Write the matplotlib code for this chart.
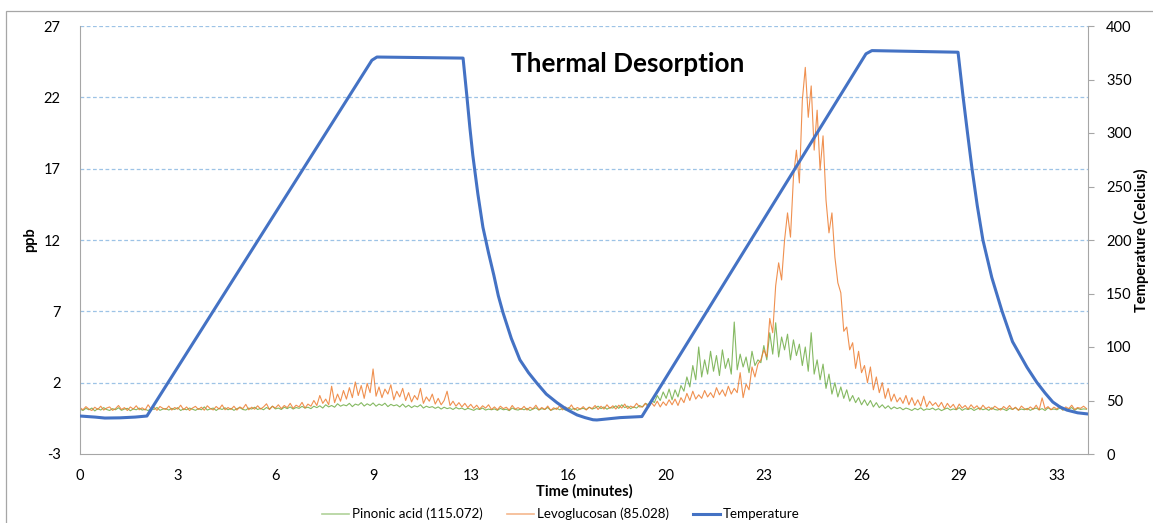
import numpy as np
import matplotlib
matplotlib.use("Agg")
import matplotlib.pyplot as plt
from matplotlib.lines import Line2D
from matplotlib.patches import Rectangle

plt.rcParams['font.family'] = ['Lato', 'DejaVu Sans']
plt.rcParams['axes.unicode_minus'] = False

# sampling grid of the two mass traces (minutes, 0.1 min step)
T_STEP = 0.1

LEVO = [
    0.25, 0.10, 0.32, 0.15, 0.05, 0.28, 0.12, 0.35, 0.08, 0.22,
    0.30, 0.06, 0.18, 0.40, 0.12, 0.25, 0.05, 0.30, 0.15, 0.38,
    0.10, 0.24, 0.08, 0.45, 0.15, 0.28, 0.06, 0.33, 0.20, 0.12,
    0.36, 0.08, 0.26, 0.14, 0.42, 0.10, 0.30, 0.05, 0.22, 0.34,
    0.12, 0.28, 0.07, 0.38, 0.18, 0.09, 0.33, 0.15, 0.44, 0.10,
    0.26, 0.12, 0.35, 0.08, 0.30, 0.18, 0.48, 0.10, 0.28, 0.14,
    0.38, 0.15, 0.30, 0.52, 0.12, 0.35, 0.22, 0.45, 0.18, 0.40,
    0.25, 0.55, 0.20, 0.42, 0.30, 0.62, 0.22, 0.50, 0.35, 0.75,
    0.40, 1.10, 0.55, 0.85, 0.45, 1.75, 0.60, 1.20, 0.70, 1.45,
    0.85, 1.65, 0.95, 2.05, 1.10, 1.80, 0.90, 1.95, 1.30, 2.96,
    1.05, 1.70, 0.95, 1.55, 1.20, 1.85, 0.80, 1.40, 1.00, 1.60,
    0.75, 1.30, 0.65, 1.10, 0.80, 1.60, 0.55, 1.00, 0.70, 1.20,
    0.50, 0.90, 0.45, 0.75, 1.40, 0.40, 0.70, 0.35, 0.60, 0.30,
    0.55, 0.25, 0.48, 0.20, 0.42, 0.15, 0.38, 0.22, 0.45, 0.12,
    0.30, 0.10, 0.35, 0.18, 0.28, 0.08, 0.40, 0.15, 0.25, 0.12,
    0.34, 0.08, 0.28, 0.16, 0.42, 0.10, 0.26, 0.12, 0.36, 0.06,
    0.24, 0.12, 0.38, 0.09, 0.30, 0.15, 0.44, 0.10, 0.26, 0.14,
    0.32, 0.08, 0.28, 0.18, 0.40, 0.12, 0.35, 0.15, 0.45, 0.20,
    0.38, 0.15, 0.42, 0.22, 0.50, 0.18, 0.36, 0.25, 0.55, 0.30,
    0.30, 0.55, 0.25, 0.60, 0.35, 0.70, 0.30, 0.65, 0.40, 0.80,
    0.45, 0.85, 0.40, 0.95, 0.60, 1.25, 0.75, 1.40, 0.85, 1.15,
    0.90, 1.45, 1.00, 1.30, 0.95, 1.65, 1.15, 1.50, 1.05, 1.75,
    1.20, 1.60, 1.30, 2.70, 0.95, 1.90, 1.50, 3.10, 2.40, 3.30,
    3.60, 4.30, 3.80, 6.50, 5.50, 8.80, 10.40, 9.20, 12.00, 13.90,
    12.20, 16.40, 18.30, 16.00, 21.80, 24.10, 20.60, 22.80, 18.30, 21.10,
    16.90, 19.30, 14.80, 12.50, 13.90, 10.80, 9.00, 8.30, 5.60, 5.90,
    4.30, 4.80, 3.00, 4.20, 2.70, 3.20, 2.00, 3.10, 1.50, 2.40,
    1.30, 2.00, 0.90, 1.60, 0.70, 1.20, 0.65, 0.95, 0.55, 1.10,
    0.45, 0.95, 0.40, 0.80, 0.35, 1.05, 0.30, 0.70, 0.40, 0.60,
    0.30, 0.62, 0.18, 0.55, 0.25, 0.48, 0.12, 0.50, 0.22, 0.40,
    0.15, 0.45, 0.20, 0.38, 0.10, 0.42, 0.18, 0.30, 0.12, 0.35,
    0.20, 0.08, 0.33, 0.15, 0.40, 0.12, 0.28, 0.06, 0.36, 0.18,
    0.10, 0.30, 0.14, 0.42, 0.08, 0.93, 0.16, 0.32, 0.10, 0.28,
    0.15, 0.38, 0.08, 0.30, 0.18, 0.42, 0.12, 0.26, 0.20, 0.35,
    0.18,
]

PINO = [
    0.15, 0.05, 0.20, 0.10, 0.22, 0.02, 0.18, 0.08, 0.25, 0.12,
    0.05, 0.18, 0.10, 0.24, 0.06, 0.15, 0.20, 0.03, 0.16, 0.10,
    0.22, 0.08, 0.14, 0.04, 0.20, 0.12, 0.26, 0.06, 0.15, 0.18,
    0.08, 0.20, 0.12, 0.25, 0.05, 0.16, 0.10, 0.22, 0.14, 0.06,
    0.18, 0.10, 0.30, 0.08, 0.16, 0.22, 0.05, 0.20, 0.12, 0.24,
    0.10, 0.20, 0.06, 0.18, 0.25, 0.12, 0.08, 0.22, 0.15, 0.28,
    0.12, 0.20, 0.10, 0.26, 0.14, 0.35, 0.16, 0.22, 0.12, 0.28,
    0.18, 0.30, 0.15, 0.26, 0.20, 0.34, 0.22, 0.28, 0.18, 0.35,
    0.25, 0.38, 0.22, 0.45, 0.30, 0.40, 0.28, 0.52, 0.35, 0.45,
    0.38, 0.55, 0.32, 0.50, 0.42, 0.60, 0.36, 0.52, 0.40, 0.58,
    0.35, 0.50, 0.40, 0.56, 0.32, 0.48, 0.38, 0.45, 0.30, 0.50,
    0.28, 0.42, 0.25, 0.38, 0.30, 0.45, 0.22, 0.35, 0.26, 0.32,
    0.20, 0.30, 0.15, 0.28, 0.18, 0.24, 0.12, 0.26, 0.16, 0.22,
    0.10, 0.20, 0.14, 0.06, 0.18, 0.12, 0.22, 0.08, 0.15, 0.10,
    0.16, 0.06, 0.20, 0.10, 0.14, 0.04, 0.22, 0.12, 0.08, 0.18,
    0.10, 0.20, 0.05, 0.15, 0.24, 0.08, 0.18, 0.12, 0.26, 0.06,
    0.14, 0.22, 0.10, 0.18, 0.08, 0.25, 0.12, 0.20, 0.06, 0.16,
    0.20, 0.12, 0.28, 0.15, 0.22, 0.35, 0.18, 0.30, 0.14, 0.26,
    0.22, 0.38, 0.20, 0.45, 0.25, 0.36, 0.18, 0.30, 0.22, 0.40,
    0.30, 0.55, 0.45, 0.80, 0.60, 1.10, 0.75, 1.35, 0.90, 1.55,
    0.80, 1.50, 1.00, 1.80, 1.40, 2.40, 1.70, 3.20, 2.20, 4.50,
    2.40, 3.60, 2.60, 4.20, 2.80, 3.90, 2.50, 4.30, 3.00, 3.70,
    2.60, 6.25, 2.90, 4.00, 3.10, 3.80, 2.70, 4.20, 3.20, 3.60,
    3.40, 4.60, 3.60, 5.50, 4.00, 6.20, 3.80, 5.20, 4.30, 5.40,
    3.60, 5.00, 3.90, 4.70, 3.20, 4.50, 2.80, 5.50, 2.60, 3.60,
    2.20, 3.30, 1.60, 2.60, 1.20, 2.00, 1.00, 1.70, 0.90, 1.50,
    0.70, 1.10, 0.60, 0.95, 0.45, 0.80, 0.40, 0.75, 0.30, 0.60,
    0.25, 0.45, 0.20, 0.38, 0.15, 0.30, 0.18, 0.26, 0.10, 0.22,
    0.15, 0.05, 0.20, 0.10, 0.24, 0.06, 0.16, 0.12, 0.22, 0.08,
    0.18, 0.04, 0.14, 0.22, 0.08, 0.16, 0.10, 0.25, 0.06, 0.18,
    0.12, 0.20, 0.05, 0.16, 0.22, 0.10, 0.18, 0.06, 0.24, 0.12,
    0.08, 0.18, 0.14, 0.04, 0.20, 0.12, 0.25, 0.08, 0.15, 0.10,
    0.20, 0.06, 0.16, 0.22, 0.10, 0.18, 0.05, 0.24, 0.12, 0.15,
    0.10, 0.22, 0.08, 0.18, 0.14, 0.26, 0.06, 0.20, 0.12, 0.16,
    0.14,
]

TEMP_T = [0, 0.51, 0.84, 1.35, 1.86, 2.26, 9.86, 10.03, 12.94, 13.07,
          13.17, 13.27, 13.44, 13.61, 13.80, 13.98, 14.13, 14.29, 14.57,
          14.86, 15.15, 15.44, 15.75, 16.11, 16.45, 16.79, 17.06, 17.33,
          17.46, 18.24, 18.98, 26.55, 26.75, 29.66, 29.83, 29.98, 30.13,
          30.31, 30.50, 30.80, 31.14, 31.50, 31.99, 32.32, 32.60, 32.86,
          33.10, 33.34, 33.70, 34.05]
TEMP_C = [35.5, 34.5, 33.6, 33.8, 34.5, 35.5, 368, 371, 370, 334,
          305, 279, 243, 212, 188, 167, 148, 132, 108,
          88, 76, 66, 56, 48, 41.5, 36.5, 34, 32,
          31.8, 34, 35, 374, 377, 375.5, 334, 300, 267,
          232, 200, 165, 134, 105, 81, 67, 57, 48.6,
          44, 41, 38.5, 37.4]

XTICK_LABELS = ['0', '3', '6', '9', '13', '16', '20', '23', '26', '29', '33']
PPB_TICKS = [-3, 2, 7, 12, 17, 22, 27]
TEMP_TICKS = [0, 50, 100, 150, 200, 250, 300, 350, 400]

t = np.arange(len(LEVO)) * T_STEP

W, H = 1153, 523
fig = plt.figure(figsize=(W / 100, H / 100), dpi=100)
fig.patches.append(Rectangle((6 / W, -0.1), 1.2, 1 - 11 / H + 0.1, transform=fig.transFigure,
                             fill=False, edgecolor='#a6a6a6', linewidth=0.9))

ax = fig.add_axes([80 / W, 1 - 454 / H, 1008 / W, 428 / H])
ax.set_facecolor('none')
ax.plot(t, PINO, color='#70ad47', lw=0.8, alpha=0.85)
ax.plot(t, LEVO, color='#ed7d31', lw=0.8, alpha=0.85)

ax.set_xlim(0, 34.05)
ax.set_ylim(-3, 27)
ax.set_xticks([3.3 * i for i in range(len(XTICK_LABELS))])
ax.set_xticklabels(XTICK_LABELS)
ax.set_yticks(PPB_TICKS)
for y in PPB_TICKS[1:]:
    ax.axhline(y, color='#9dc3e6', lw=0.9, dashes=(3, 2), zorder=0)
ax.tick_params(axis='both', length=0, labelsize=10.5, colors='#000000')
ax.tick_params(axis='x', pad=11)
ax.tick_params(axis='y', pad=14)
for s in ['top', 'right']:
    ax.spines[s].set_visible(False)
for s in ['left', 'bottom']:
    ax.spines[s].set_color('#a6a6a6')
ax.set_ylabel('ppb', fontsize=10.5, fontweight='bold')
ax.yaxis.set_label_coords(-0.043, 0.5)
ax.set_xlabel('Time (minutes)', fontsize=10.5, fontweight='bold')
ax.xaxis.set_label_coords(0.5, -0.071)

ax2 = ax.twinx()
ax2.plot(TEMP_T, TEMP_C, color='#4472c4', lw=2.2)
ax2.set_ylim(0, 400)
ax2.set_yticks(TEMP_TICKS)
ax2.tick_params(axis='y', length=4, width=0.8, color='#a6a6a6', labelsize=10.5, pad=9)
for s in ['top', 'left', 'bottom']:
    ax2.spines[s].set_visible(False)
ax2.spines['right'].set_color('#a6a6a6')
ax2.set_ylabel('Temperature (Celcius)', fontsize=10.5, fontweight='bold')
ax2.yaxis.set_label_coords(1.0456, 0.5)

fig.text(628 / W, 1 - 64 / H, 'Thermal Desorption', fontsize=18.8, fontweight='bold',
         ha='center', va='center')

handles = [Line2D([], [], color='#70ad47', lw=1.2, alpha=0.55),
           Line2D([], [], color='#ed7d31', lw=1.2, alpha=0.55),
           Line2D([], [], color='#4472c4', lw=2.2)]
labels = ['Pinonic acid (115.072)', 'Levoglucosan (85.028)', 'Temperature']
fig.legend(handles, labels, loc='center', bbox_to_anchor=(561 / W, 1 - 514 / H), ncol=3,
           frameon=False, fontsize=9.6, handlelength=2.0, handletextpad=0.25,
           columnspacing=1.8)

fig.savefig('out.png', dpi=100)
